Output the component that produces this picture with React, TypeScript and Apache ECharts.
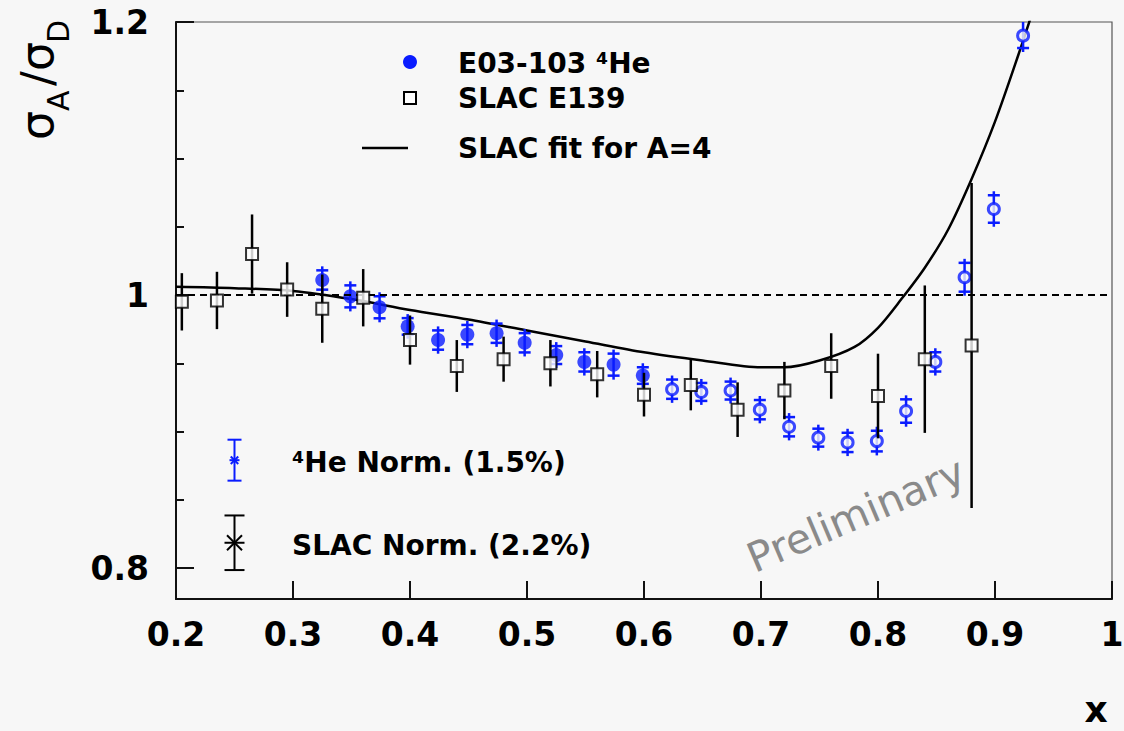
import React, { useEffect, useRef } from 'react';
import * as echarts from 'echarts';

// SLAC E139 (open squares)
const slacX = [0.205, 0.235, 0.265, 0.295, 0.325, 0.36, 0.40, 0.44, 0.48, 0.52, 0.56, 0.60, 0.64, 0.68, 0.72, 0.76, 0.80, 0.84, 0.88];
const slacY = [0.995, 0.996, 1.030, 1.004, 0.990, 0.998, 0.967, 0.948, 0.953, 0.950, 0.942, 0.927, 0.934, 0.916, 0.930, 0.948, 0.926, 0.953, 0.963];
const slacErr = [0.021, 0.021, 0.029, 0.020, 0.025, 0.021, 0.018, 0.019, 0.0165, 0.017, 0.017, 0.016, 0.0185, 0.020, 0.021, 0.024, 0.031, 0.054, 0.119];

// E03-103 4He, filled markers
const heFilledX = [0.325, 0.349, 0.374, 0.398, 0.424, 0.449, 0.474, 0.498, 0.525, 0.549, 0.574, 0.599];
const heFilledY = [1.011, 0.999, 0.991, 0.977, 0.967, 0.971, 0.972, 0.965, 0.956, 0.951, 0.949, 0.941];
const heFilledErr = [0.010, 0.011, 0.011, 0.009, 0.010, 0.010, 0.010, 0.010, 0.0095, 0.010, 0.011, 0.009];

// E03-103 4He, open markers
const heOpenX = [0.624, 0.649, 0.674, 0.699, 0.724, 0.749, 0.774, 0.799, 0.824, 0.849, 0.874, 0.899, 0.924];
const heOpenY = [0.931, 0.929, 0.930, 0.916, 0.9035, 0.8955, 0.892, 0.893, 0.915, 0.951, 1.013, 1.063, 1.19];
const heOpenErr = [0.010, 0.0095, 0.0095, 0.010, 0.010, 0.0095, 0.010, 0.0105, 0.0115, 0.010, 0.0135, 0.013, 0.012];

// SLAC fit for A=4
const fitX = [0.2, 0.25, 0.3, 0.35, 0.4, 0.45, 0.5, 0.55, 0.6, 0.65, 0.7, 0.72, 0.75, 0.78, 0.8, 0.82, 0.84, 0.86, 0.88, 0.9, 0.92, 0.935];
const fitY = [1.006, 1.005, 1.003, 0.997, 0.989, 0.982, 0.974, 0.966, 0.958, 0.952, 0.947, 0.947, 0.952, 0.962, 0.976, 0.997, 1.020, 1.048, 1.085, 1.127, 1.176, 1.215];

// normalisation uncertainties
const heNorm = [0.25, 0.879, 0.015];
const slacNorm = [0.25, 0.8185, 0.020];

const xTicks = [0.2, 0.3, 0.4, 0.5, 0.6, 0.7, 0.8, 0.9, 1];
const yMajor = [0.8, 1.0, 1.2];
const yMinor = [0.85, 0.9, 0.95, 1.05, 1.1, 1.15];

const BLUE = '#0a1cff';
const FONT = '"DejaVu Sans", "Liberation Sans", sans-serif';
const Y_MIN = 0.7773;
const Y_MAX = 1.2;

function errBar(color: string, width: number, capW: number, inset: number, star: number) {
  return (params: any, api: any) => {
    const x = api.value(0);
    const y = api.value(1);
    const e = api.value(2);
    const hiV = Math.min(y + e, Y_MAX);
    const pHi = api.coord([x, hiV]);
    const pLo = api.coord([x, y - e]);
    const pC = api.coord([x, y]);
    const st = { stroke: color, lineWidth: width };
    const children: any[] = [
      { type: 'line', shape: { x1: pHi[0], y1: pHi[1], x2: pLo[0], y2: pLo[1] }, style: st },
    ];
    if (capW > 0) {
      if (y + e <= Y_MAX) {
        const yy = pHi[1] + inset;
        children.push({ type: 'line', shape: { x1: pHi[0] - capW / 2, y1: yy, x2: pHi[0] + capW / 2, y2: yy }, style: st });
      }
      const yl = pLo[1] - inset;
      children.push({ type: 'line', shape: { x1: pLo[0] - capW / 2, y1: yl, x2: pLo[0] + capW / 2, y2: yl }, style: st });
    }
    if (star > 0) {
      const s = star / 2;
      const d = s * 0.75;
      children.push({ type: 'line', shape: { x1: pC[0] - s, y1: pC[1], x2: pC[0] + s, y2: pC[1] }, style: st });
      children.push({ type: 'line', shape: { x1: pC[0] - d, y1: pC[1] - d, x2: pC[0] + d, y2: pC[1] + d }, style: st });
      children.push({ type: 'line', shape: { x1: pC[0] - d, y1: pC[1] + d, x2: pC[0] + d, y2: pC[1] - d }, style: st });
    }
    return { type: 'group', children };
  };
}

const zip3 = (a: number[], b: number[], c: number[]) => a.map((v, i) => [v, b[i], c[i]]);
const zip2 = (a: number[], b: number[]) => a.map((v, i) => [v, b[i]]);

export default function App() {
  const ref = useRef<HTMLDivElement>(null);
  useEffect(() => {
    const chart = echarts.init(ref.current!, null, { renderer: 'svg' });
    const labelStyle = { fontSize: 33, fontWeight: 'bold' as const, fontFamily: FONT, color: '#000' };
    const txt = (x: number, y: number, text: string, font: string) => ({
      type: 'text', x, y, z: 10,
      style: { text, font, fill: '#000', textAlign: 'left', textVerticalAlign: 'middle', align: 'left', verticalAlign: 'middle' },
    });
    const option: any = {
      animation: false,
      backgroundColor: '#f7f7f7',
      grid: { left: 176, right: 12, top: 22, bottom: 132, show: true, borderColor: '#555', borderWidth: 1.2, backgroundColor: 'transparent', containLabel: false, outerBoundsMode: 'none' },
      xAxis: {
        type: 'value', min: 0.2, max: 1, interval: 0.1,
        axisLine: { show: true, lineStyle: { color: '#111', width: 2 } },
        axisTick: { show: true, inside: true, length: 18, lineStyle: { color: '#111', width: 2 } },
        axisLabel: { ...labelStyle, margin: 19, customValues: xTicks, formatter: (v: number) => String(Math.round(v * 10) / 10) },
        splitLine: { show: false },
      },
      yAxis: [
        {
          type: 'value', min: Y_MIN, max: Y_MAX, position: 'left',
          axisLine: { show: true, lineStyle: { color: '#111', width: 2 } },
          axisTick: { show: true, inside: true, length: 18, customValues: yMajor, lineStyle: { color: '#111', width: 2 } },
          axisLabel: { ...labelStyle, margin: 27, customValues: yMajor, formatter: (v: number) => String(Math.round(v * 10) / 10) },
          splitLine: { show: false },
        },
        {
          type: 'value', min: Y_MIN, max: Y_MAX, position: 'left',
          axisLine: { show: false },
          axisTick: { show: true, inside: true, length: 8, customValues: yMinor, lineStyle: { color: '#111', width: 2 } },
          axisLabel: { show: false },
          splitLine: { show: false },
        },
      ],
      series: [
        {
          name: 'SLAC fit for A=4', type: 'line', data: zip2(fitX, fitY), smooth: 0.3, symbol: 'none', clip: true,
          lineStyle: { color: '#000', width: 2.5 }, z: 2,
          markLine: {
            silent: true, symbol: 'none', label: { show: false },
            lineStyle: { color: '#000', width: 2, type: [7, 5] },
            data: [{ yAxis: 1 }],
          },
        },
        { type: 'custom', renderItem: errBar(BLUE, 2.5, 12, 4, 0), data: zip3(heFilledX, heFilledY, heFilledErr), encode: { x: 0, y: 1 }, z: 3 },
        { type: 'custom', renderItem: errBar(BLUE, 2.5, 12, 4, 0), data: zip3(heOpenX, heOpenY, heOpenErr), encode: { x: 0, y: 1 }, z: 3 },
        { name: 'E03-103 4He', type: 'scatter', data: zip2(heFilledX, heFilledY), symbol: 'circle', symbolSize: 14, itemStyle: { color: BLUE }, z: 4 },
        { type: 'scatter', data: zip2(heOpenX, heOpenY), symbol: 'circle', symbolSize: 11, itemStyle: { color: '#f7f7f7', borderColor: BLUE, borderWidth: 3 }, z: 4 },
        { type: 'custom', renderItem: errBar('#000', 2.5, 0, 0, 0), data: zip3(slacX, slacY, slacErr), encode: { x: 0, y: 1 }, z: 5 },
        { name: 'SLAC E139', type: 'scatter', data: zip2(slacX, slacY), symbol: 'rect', symbolSize: 12, itemStyle: { color: '#ffffff', borderColor: '#000', borderWidth: 2 }, z: 6 },
        { type: 'custom', renderItem: errBar(BLUE, 2, 14, 0, 10), data: [heNorm], encode: { x: 0, y: 1 }, z: 5 },
        { type: 'custom', renderItem: errBar('#000', 2, 20, 0, 20), data: [slacNorm], encode: { x: 0, y: 1 }, z: 5 },
      ],
      graphic: {
        elements: [
          // legend
          { type: 'circle', shape: { cx: 410, cy: 62, r: 7 }, style: { fill: BLUE }, z: 10 },
          { type: 'rect', shape: { x: 404, y: 92, width: 12, height: 12 }, style: { fill: '#fff', stroke: '#000', lineWidth: 2 }, z: 10 },
          { type: 'line', shape: { x1: 362, y1: 148, x2: 408, y2: 148 }, style: { stroke: '#000', lineWidth: 2.5 }, z: 10 },
          txt(458, 63, 'E03-103 ⁴He', `bold 28px ${FONT}`),
          txt(458, 98, 'SLAC E139', `bold 28px ${FONT}`),
          txt(458, 148, 'SLAC fit for A=4', `bold 28px ${FONT}`),
          // normalisation labels
          txt(292, 462, '⁴He Norm. (1.5%)', `bold 28px ${FONT}`),
          txt(292, 545, 'SLAC Norm. (2.2%)', `bold 28px ${FONT}`),
          // watermark
          { type: 'text', x: 856, y: 515, rotation: (23 * Math.PI) / 180, style: { text: 'Preliminary', font: `41px ${FONT}`, fill: '#8a8a8a', textAlign: 'center', textVerticalAlign: 'middle', align: 'center', verticalAlign: 'middle' }, z: 10 },
          // x axis title
          { type: 'text', x: 1096, y: 709, style: { text: 'x', font: `bold 36px ${FONT}`, fill: '#000', textAlign: 'center', textVerticalAlign: 'middle', align: 'center', verticalAlign: 'middle' }, z: 10 },
          // y axis title
          {
            type: 'group', x: 52, y: 140, rotation: Math.PI / 2, z: 10,
            children: [
              { type: 'text', x: 0, y: -15, style: { text: 'σ', font: `46px ${FONT}`, fill: '#000', textAlign: 'left', textVerticalAlign: 'middle', align: 'left', verticalAlign: 'middle' } },
              { type: 'text', x: 29, y: 6, style: { text: 'A', font: `30px ${FONT}`, fill: '#000', textAlign: 'left', textVerticalAlign: 'middle', align: 'left', verticalAlign: 'middle' } },
              { type: 'text', x: 54, y: -15, style: { text: '/', font: `44px ${FONT}`, fill: '#000', textAlign: 'left', textVerticalAlign: 'middle', align: 'left', verticalAlign: 'middle' } },
              { type: 'text', x: 69, y: -15, style: { text: 'σ', font: `46px ${FONT}`, fill: '#000', textAlign: 'left', textVerticalAlign: 'middle', align: 'left', verticalAlign: 'middle' } },
              { type: 'text', x: 97, y: 6, style: { text: 'D', font: `30px ${FONT}`, fill: '#000', textAlign: 'left', textVerticalAlign: 'middle', align: 'left', verticalAlign: 'middle' } },
            ],
          },
        ],
      },
    };
    chart.setOption(option);
    return () => chart.dispose();
  }, []);
  return <div ref={ref} style={{ position: 'fixed', left: 0, top: 0, width: 1124, height: 731, background: '#f7f7f7' }} />;
}
